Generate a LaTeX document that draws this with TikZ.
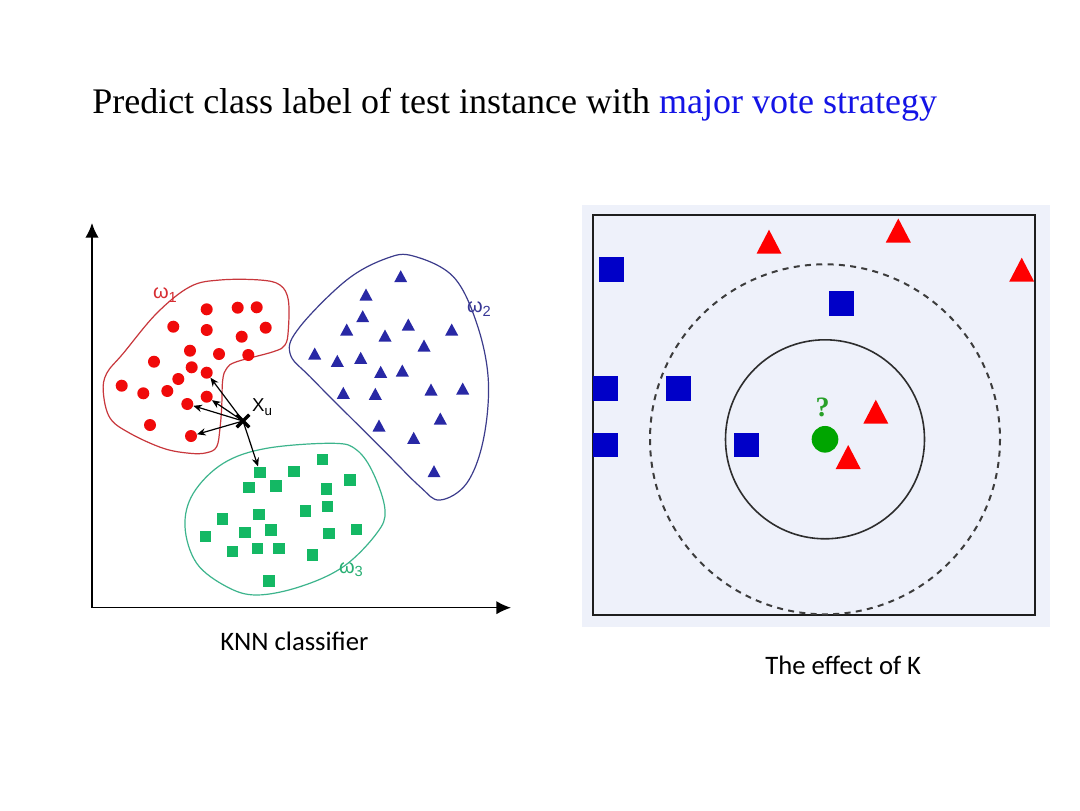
\documentclass[tikz,border=0pt]{standalone}
\usepackage{fontspec}
\setmainfont{Liberation Serif}
\newfontfamily\calibrifont{Carlito}
\newfontfamily\arialfont{Liberation Sans}
\usetikzlibrary{arrows.meta,shapes.misc}

\begin{document}
\begin{tikzpicture}[x=0.75pt,y=0.75pt,yscale=-1,xscale=1,
  axisline/.style={color={rgb, 255:red, 0; green, 0; blue, 0 },line width=1.1pt,-{Latex[length=11pt,width=10pt]}},
  reddot/.style={circle,inner sep=0pt,minimum size=9pt,fill={rgb, 255:red, 240; green, 10; blue, 10 }},
  greensq/.style={rectangle,inner sep=0pt,minimum size=8.3pt,fill={rgb, 255:red, 20; green, 184; blue, 100 }},
  bluetri/.style={fill={rgb, 255:red, 40; green, 40; blue, 165 }},
  nbarrow/.style={line width=0.9pt,-{Stealth[length=6.5pt,width=5.5pt]}},
  bluesq/.style={rectangle,inner sep=0pt,minimum size=18.5pt,fill={rgb, 255:red, 0; green, 0; blue, 200 }},
  redtri/.style={fill={rgb, 255:red, 255; green, 0; blue, 0 }}
]
\useasboundingbox (0,0) rectangle (1080,810);
\fill [color={rgb, 255:red, 255; green, 255; blue, 255 }] (0,0) rectangle (1080,810);

% Text Node
\node [anchor=base west,inner sep=0pt] (title) at (92,113) {\fontsize{27}{32}\selectfont Predict class label of test instance with \textcolor[RGB]{20,20,230}{major vote strategy}};

%Straight Lines [id:axes]
\coordinate (origin) at (92,607.7);
\coordinate (ytip) at (92,223);
\coordinate (xtip) at (511,607.7);
\draw [axisline] (origin) -- (ytip);
\draw [axisline] (origin) -- (xtip);

%Shape: Blob [id:omega1]
\draw [color={rgb, 255:red, 200; green, 55; blue, 60 },line width=0.9pt] plot [smooth cycle,tension=0.6] coordinates {
 (190,286.7) (220,280) (260,280) (280,285) (288.3,300) (288.3,330) (285,345) (273.3,351.7) (236.7,361.7) (226.7,368.3) (222.7,380) (221.7,406.7) (220,428) (216.7,446.7) (206.7,452.7) (190,453.3) (163.3,448.3) (130,433.3) (110,418) (103.3,392) (106.7,373.3) (123.3,353.3) (156.7,313.3)};
%Shape: Blob [id:omega2]
\draw [color={rgb, 255:red, 60; green, 60; blue, 140 },line width=0.9pt] plot [smooth cycle,tension=0.6] coordinates {
 (413.3,256) (453.3,276.7) (476.7,323.3) (488.3,380) (483.3,440) (466.7,483.3) (440,500) (420,486.7) (380,446.7) (313.3,380) (290,353.3) (300,326.7) (346.7,280) (386.7,258.3)};
%Shape: Blob [id:omega3]
\draw [color={rgb, 255:red, 60; green, 180; blue, 140 },line width=0.9pt] plot [smooth cycle,tension=0.6] coordinates {
 (333.3,443.3) (266.7,448.3) (223.3,463.3) (193.3,493.3) (185,526.7) (196.7,563.3) (226.7,586.7) (256.7,595) (300,586.7) (343.3,566.7) (376.7,533.3) (385,510) (373.3,473.3) (356.7,450)};

% red class
\foreach \x/\y [count=\i] in {206.7/309.3,237.7/307.7,256.7/307.3,173.3/326.7,206.7/330,241.7/336.7,265.7/327.7,190/350.7,219/354,248.3/355,154/361.7,191.7/367.3,206.7/372.7,178.3/379,121.7/385.7,143.3/393.3,167.3/391,206.7/396.7,187.3/404,150/425,191/436}
  \node [reddot] (r\i) at (\x,\y) {};
% blue class
\foreach \x/\y in {400.7/276.7,366/295,362.7/316.7,346.7/330,408.3/325,385/336,451.7/330,424/346,314.7/354,337.3/361.3,360.7/358.3,380.7/372.3,402.3/371,343.3/393.3,375.3/394.3,431/390,462.7/389,440.3/419,379/426,413.7/438.3,434/471.7}
  \fill [bluetri] (\x-6.5,\y+5.5) -- ++(13,0) -- ++(-6.5,-12) -- cycle;
% green class
\foreach \x/\y [count=\i] in {260/472.3,294/471.7,322.3/459.3,350/480,249/487.7,276/486,326.7/489,259/514.3,222.7/519,305.7/511,327.3/506.7,205.7/536.7,245/532.7,271/530,329/533.3,356.7/529.3,232.7/551.7,257.7/548.3,279/548.3,312.3/555,269/581}
  \node [greensq] (g\i) at (\x,\y) {};

% Text Node
\node [text={rgb, 255:red, 215; green, 45; blue, 50 }] (w1) at (165,295) {\arialfont\fontsize{15}{17}\selectfont ω\raisebox{-2.5pt}{\fontsize{11}{13}\selectfont 1}};
\node [text={rgb, 255:red, 55; green, 55; blue, 150 }] (w2) at (479,309) {\arialfont\fontsize{15}{17}\selectfont ω\raisebox{-2.5pt}{\fontsize{11}{13}\selectfont 2}};
\node [text={rgb, 255:red, 40; green, 175; blue, 115 }] (w3) at (351,570) {\arialfont\fontsize{15}{17}\selectfont ω\raisebox{-2.5pt}{\fontsize{11}{13}\selectfont 3}};

% test instance and its neighbours
\node [cross out,draw,line width=2.4pt,inner sep=0pt,minimum size=7pt] (xu) at (243,421) {};
\node (xulbl) at (262,407) {\arialfont\fontsize{14}{16}\selectfont X\raisebox{-3pt}{\fontsize{10}{12}\selectfont u}};
\draw [nbarrow] (xu.center) -- (r13);
\draw [nbarrow] (xu.center) -- (r18);
\draw [nbarrow] (xu.center) -- (r19);
\draw [nbarrow] (xu.center) -- (r21);
\draw [nbarrow] (xu.center) -- (g1);

% Text Node
\node [anchor=base west,inner sep=0pt] (knn) at (220,650) {\calibrifont\fontsize{20}{24}\selectfont KNN classifier};

%Shape: Rectangle [id:panel]
\fill [color={rgb, 255:red, 238; green, 241; blue, 250 }] (582,205) rectangle (1050,627);
\draw [color={rgb, 255:red, 30; green, 30; blue, 30 },line width=1.5pt] (593,215) rectangle (1035,615);
%Shape: Circle [id:kbig]
\draw [color={rgb, 255:red, 60; green, 60; blue, 60 },line width=1.5pt,dash pattern=on 4.5pt off 4pt] (825,439.3) circle (175);
%Shape: Circle [id:ksmall]
\draw [color={rgb, 255:red, 45; green, 45; blue, 45 },line width=1.2pt] (825,439.3) circle (99.5);

% blue squares
\foreach \x/\y in {611.7/269.5,841.5/303.3,605.8/388.3,678.3/388.3,605.8/445,746.8/445}
  \node [bluesq] at (\x,\y) {};
% red triangles
\foreach \x/\y in {769/241.7,898.3/230.5,1021.7/269.7,875.8/411.7,848.2/457}
  \fill [redtri] (\x-12.5,\y+12) -- ++(25,0) -- ++(-12.5,-24) -- cycle;

\node [circle,inner sep=0pt,minimum size=20pt,fill={rgb, 255:red, 0; green, 165; blue, 0 }] (query) at (825,439.3) {};
\node [text={rgb, 255:red, 40; green, 160; blue, 40 }] (qmark) at (822.5,407) {\fontsize{21}{25}\selectfont\bfseries ?};

% Text Node
\node [anchor=base west,inner sep=0pt] (effk) at (765,674.3) {\calibrifont\fontsize{20}{24}\selectfont The effect of K};
\end{tikzpicture}
\end{document}
